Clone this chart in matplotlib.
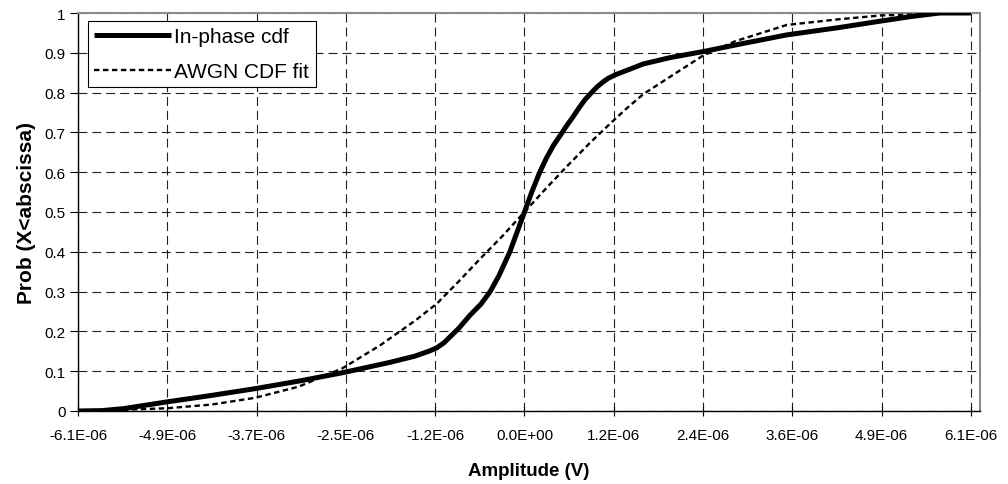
import matplotlib
matplotlib.use("Agg")
import matplotlib.pyplot as plt
import numpy as np

# Data (amplitude in microvolts)
inphase_x_uv = [-6.125, -5.8, -5.5, -4.9, -4.3, -3.7, -3.1, -2.5, -1.85, -1.5, -1.3, -1.2,
                -1.1, -1.0, -0.9, -0.75, -0.6, -0.47, -0.35, -0.2, -0.1, 0.0, 0.1, 0.21,
                0.3, 0.4, 0.5, 0.58, 0.67, 0.75, 0.83, 0.92, 1.0, 1.08, 1.15, 1.25, 1.35,
                1.63, 2.0, 2.45, 2.96, 3.6, 4.3, 4.9, 5.3, 5.7, 6.125]
inphase_y = [0.0, 0.001, 0.006, 0.023, 0.039, 0.056, 0.075, 0.096, 0.122, 0.138, 0.151, 0.159,
             0.172, 0.19, 0.208, 0.24, 0.268, 0.30, 0.34, 0.40, 0.45, 0.50, 0.55, 0.60,
             0.635, 0.668, 0.695, 0.717, 0.74, 0.762, 0.782, 0.80, 0.815, 0.827, 0.836, 0.845, 0.852,
             0.872, 0.888, 0.903, 0.922, 0.945, 0.963, 0.98, 0.991, 1.0, 1.0]

awgn_x_uv = [-6.125, -5.5, -4.9, -4.3, -3.7, -3.1, -2.5, -1.98, -1.5, -1.2, -0.9, -0.61,
             -0.3, 0.0, 0.3, 0.6, 0.9, 1.17, 1.4, 1.63, 2.0, 2.45, 2.89, 3.6, 4.3, 4.9,
             5.5, 6.125]
awgn_y = [0.001, 0.003, 0.007, 0.016, 0.033, 0.061, 0.107, 0.165, 0.227, 0.27, 0.326, 0.382,
          0.44, 0.50, 0.56, 0.618, 0.674, 0.721, 0.76, 0.796, 0.84, 0.893, 0.929, 0.97,
          0.984, 0.994, 0.997, 0.999]

xtick_labels = ["-6.1E-06", "-4.9E-06", "-3.7E-06", "-2.5E-06", "-1.2E-06", "0.0E+00",
                "1.2E-06", "2.4E-06", "3.6E-06", "4.9E-06", "6.1E-06"]
ytick_values = [0, 0.1, 0.2, 0.3, 0.4, 0.5, 0.6, 0.7, 0.8, 0.9, 1]
ytick_labels = ["0", "0.1", "0.2", "0.3", "0.4", "0.5", "0.6", "0.7", "0.8", "0.9", "1"]

plt.rcParams['font.family'] = ['Liberation Sans', 'DejaVu Sans']

fig = plt.figure(figsize=(10.08, 4.85), dpi=100)
ax = fig.add_axes([78/1008, 1-412/485, (980-78)/1008, (412-14)/485])

x_in = np.array(inphase_x_uv) * 1e-6
x_aw = np.array(awgn_x_uv) * 1e-6

ax.plot(x_in, inphase_y, color='black', lw=3.6, solid_capstyle='butt',
        solid_joinstyle='round', label='In-phase cdf', zorder=4)
ax.plot(x_aw, awgn_y, color='black', lw=1.7, linestyle=(0, (2.3, 1.5)),
        label='AWGN CDF fit', zorder=3)

xt = -6.125e-6 + 1.225e-6 * np.arange(11)
ax.set_xticks(xt)
ax.set_xticklabels(xtick_labels, fontsize=11)
ax.set_yticks(ytick_values)
ax.set_yticklabels(ytick_labels, fontsize=11)
ax.set_xlim(-6.125e-6, 6.25e-6)
ax.set_ylim(0, 1)

ax.grid(True, color='#222222', linestyle=(0, (8, 4.5)), linewidth=0.8)
ax.set_axisbelow(True)

for s in ['top', 'right']:
    ax.spines[s].set_color('#8c8c8c')
    ax.spines[s].set_linewidth(1.5)
for s in ['left', 'bottom']:
    ax.spines[s].set_color('black')
    ax.spines[s].set_linewidth(1.0)

ax.tick_params(axis='x', direction='inout', length=7, width=0.8, pad=9)
ax.tick_params(axis='y', direction='out', length=6, width=0.8, pad=3)

ax.set_xlabel('Amplitude (V)', fontsize=13.5, fontweight='bold', labelpad=14)
ax.set_ylabel('Prob (X<abscissa)', fontsize=15, fontweight='bold', labelpad=6)

leg = ax.legend(loc='upper left', bbox_to_anchor=(10/902, 1-8/398), fontsize=15,
                frameon=True, fancybox=False, shadow=False, handlelength=3.7,
                handletextpad=0.15, borderpad=0.3, labelspacing=0.75, borderaxespad=0)
leg.get_frame().set_edgecolor('black')
leg.get_frame().set_linewidth(0.8)
leg.get_frame().set_facecolor('white')
leg.get_frame().set_alpha(1)

fig.savefig('out.png', dpi=100)
